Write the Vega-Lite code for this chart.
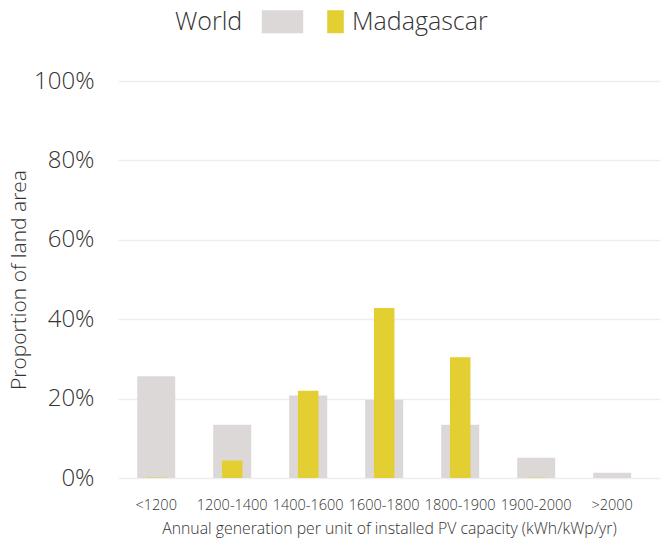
{
  "$schema": "https://vega.github.io/schema/vega-lite/v6.json",
  "autosize": "none",
  "width": 542,
  "height": 397,
  "padding": {"left": 118, "top": 81, "right": 1, "bottom": 68},
  "background": "white",
  "config": {
    "font": "Open Sans",
    "view": {"stroke": null},
    "axis": {"labelColor": "#333333", "titleColor": "#333333", "labelFont": "Open Sans", "titleFont": "Open Sans", "titleFontWeight": 300, "labelFontWeight": 300}
  },
  "data": {
    "values": [
      {"band": "<1200", "series": "World", "value": 0.256},
      {"band": "1200-1400", "series": "World", "value": 0.134},
      {"band": "1400-1600", "series": "World", "value": 0.208},
      {"band": "1600-1800", "series": "World", "value": 0.197},
      {"band": "1800-1900", "series": "World", "value": 0.134},
      {"band": "1900-2000", "series": "World", "value": 0.051},
      {"band": ">2000", "series": "World", "value": 0.013},
      {"band": "<1200", "series": "Madagascar", "value": 0.001},
      {"band": "1200-1400", "series": "Madagascar", "value": 0.044},
      {"band": "1400-1600", "series": "Madagascar", "value": 0.22},
      {"band": "1600-1800", "series": "Madagascar", "value": 0.428},
      {"band": "1800-1900", "series": "Madagascar", "value": 0.304},
      {"band": "1900-2000", "series": "Madagascar", "value": 0.001},
      {"band": ">2000", "series": "Madagascar", "value": 0}
    ]
  },
  "encoding": {
    "x": {
      "field": "band", "type": "nominal", "sort": null,
      "scale": {"paddingInner": 0.5, "paddingOuter": 0.316, "align": 0.4},
      "axis": {"title": "Annual generation per unit of installed PV capacity (kWh/kWp/yr)", "labelAngle": 0, "labelFontSize": 14.5, "titleFontSize": 15.8, "ticks": false, "domain": false, "labelPadding": 20, "titlePadding": 10, "labelOverlap": false}
    },
    "y": {
      "field": "value", "type": "quantitative",
      "scale": {"domain": [0, 1]},
      "axis": {"title": "Proportion of land area", "format": "%", "values": [0, 0.2, 0.4, 0.6, 0.8, 1], "labelFontSize": 24, "titleFontSize": 21, "ticks": false, "domain": false, "labelPadding": 24, "titlePadding": 4, "gridColor": "#eeeeee", "gridWidth": 1.5}
    },
    "color": {
      "field": "series", "type": "nominal",
      "scale": {"domain": ["World", "Madagascar"], "range": ["#ddd8d8", "#e3cf31"]},
      "legend": {
        "orient": "none", "legendX": 57, "legendY": -72,
        "direction": "horizontal",
        "title": "World", "titleOrient": "left", "titleFontSize": 25, "titleFontWeight": 300, "titleColor": "#333333", "titlePadding": 27, "titleFont": "Open Sans",
        "labelExpr": "datum.value === 'World' ? '' : datum.label",
        "labelFontSize": 25, "labelFont": "Open Sans", "labelFontWeight": 300, "labelColor": "#333333", "labelOffset": 4,
        "symbolSize": 529, "symbolStrokeWidth": 0, "columnPadding": 19,
        "encode": {"symbols": {"update": {"shape": {"signal": "datum.value === 'World' ? 'M-1.8,-1H1.8V1H-1.8Z' : 'M-0.72,-1H0.72V1H-0.72Z'"}}}}
      }
    }
  },
  "layer": [
    {"transform": [{"filter": "datum.series === 'World'"}], "mark": {"type": "bar"}},
    {"transform": [{"filter": "datum.series === 'Madagascar'"}], "mark": {"type": "bar", "width": {"band": 0.54}}}
  ]
}
